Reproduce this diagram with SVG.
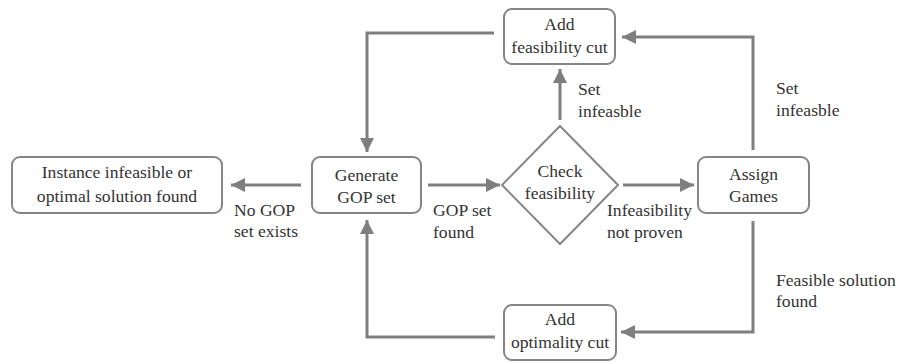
<svg xmlns="http://www.w3.org/2000/svg" width="897" height="363" viewBox="0 0 897 363">
<style>
.box{fill:#fff;stroke:#858585;stroke-width:2}
.t{font-family:'Liberation Serif','Times New Roman',serif;font-size:17.6px;fill:#333}
.c{text-anchor:middle}
.ln{fill:none;stroke:#7f7f7f;stroke-width:3}
</style>
<defs>
<marker id="ah" markerUnits="userSpaceOnUse" markerWidth="16" markerHeight="16" refX="14" refY="7" orient="auto">
<path d="M0,0 L14,7 L0,14 z" fill="#7f7f7f"/>
</marker>
</defs>
<rect width="897" height="363" fill="#fff"/>
<g id="instance">
<rect class="box" x="12" y="157" width="210" height="56" rx="8"/>
<text class="t c" x="117" y="178">Instance infeasible or</text>
<text class="t c" x="117" y="202">optimal solution found</text>
</g>
<g id="generate">
<rect class="box" x="312" y="157" width="109" height="56" rx="8"/>
<text class="t c" x="366.5" y="181">Generate</text>
<text class="t c" x="366.5" y="203">GOP set</text>
</g>
<g id="check">
<polygon class="box" points="560,126 618,185 560,244 502,185"/>
<text class="t c" x="560" y="177">Check</text>
<text class="t c" x="560" y="199">feasibility</text>
</g>
<g id="feascut">
<rect class="box" x="504" y="9" width="111" height="55" rx="8"/>
<text class="t c" x="559.5" y="30">Add</text>
<text class="t c" x="559.5" y="53">feasibility cut</text>
</g>
<g id="assign">
<rect class="box" x="698" y="157" width="111" height="56" rx="8"/>
<text class="t c" x="753.5" y="180">Assign</text>
<text class="t c" x="753.5" y="202">Games</text>
</g>
<g id="optcut">
<rect class="box" x="504" y="305" width="112" height="55" rx="8"/>
<text class="t c" x="560" y="325">Add</text>
<text class="t c" x="560" y="348">optimality cut</text>
</g>
<g id="connectors">
<line class="ln" x1="301" y1="185" x2="231" y2="185" marker-end="url(#ah)"/>
<line class="ln" x1="428" y1="185" x2="500" y2="185" marker-end="url(#ah)"/>
<line class="ln" x1="623" y1="185" x2="694" y2="185" marker-end="url(#ah)"/>
<line class="ln" x1="560" y1="120" x2="560" y2="69" marker-end="url(#ah)"/>
<polyline class="ln" points="494,33 367,33 367,152" marker-end="url(#ah)"/>
<polyline class="ln" points="753,150 753,37 622,37" marker-end="url(#ah)"/>
<polyline class="ln" points="753,221 753,332 621,332" marker-end="url(#ah)"/>
<polyline class="ln" points="495,337 367,337 367,220" marker-end="url(#ah)"/>
</g>
<g id="labels">
<text class="t" x="234" y="216">No GOP</text>
<text class="t" x="234" y="237">set exists</text>
<text class="t" x="433" y="216">GOP set</text>
<text class="t" x="433" y="238">found</text>
<text class="t" x="607" y="216">Infeasibility</text>
<text class="t" x="607" y="238">not proven</text>
<text class="t" x="578" y="95">Set</text>
<text class="t" x="578" y="117">infeasble</text>
<text class="t" x="776" y="94">Set</text>
<text class="t" x="776" y="116">infeasble</text>
<text class="t" x="776" y="286">Feasible solution</text>
<text class="t" x="776" y="307">found</text>
</g>
</svg>
